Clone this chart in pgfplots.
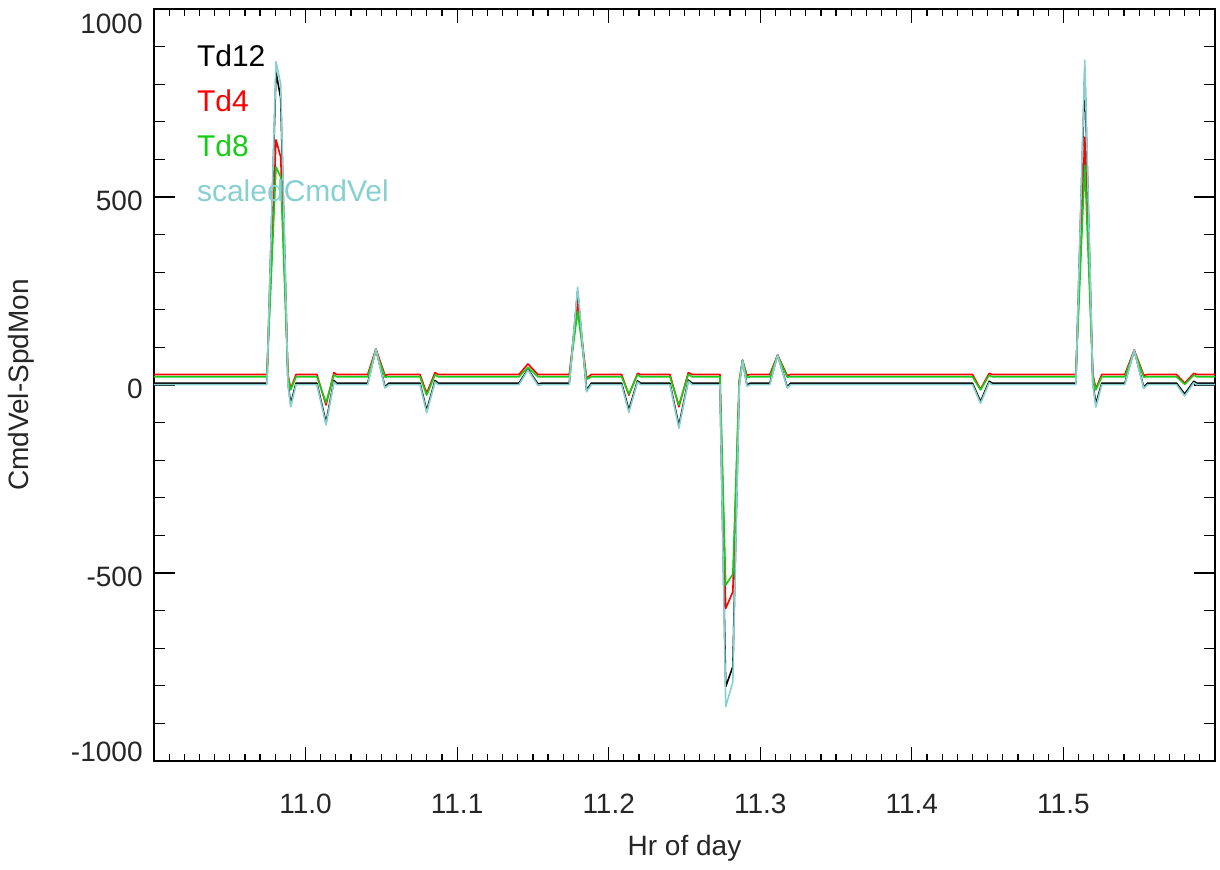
\documentclass[border=0pt]{standalone}
\usepackage{fontspec}
\setmainfont{Liberation Sans}
\usepackage{pgfplots}
\pgfplotsset{compat=1.18}
\usepackage{pgfplotstable}

\definecolor{tdgreen}{RGB}{20,205,20}
\definecolor{cmdcyan}{RGB}{135,208,208}

% hour of day, Td12, Td4, Td8, scaledCmdVel
\pgfplotstableread{
t       td12  td4  td8  cmd
10.9000    5   28   22    1
10.9745    5   28   22    1
10.9805  832  652  580  860
10.9836  763  606  553  800
10.9884    5   28   22    1
10.9902  -50  -10  -13  -58
10.9937    5   28   22    1
11.0075    5   28   22    1
11.0135 -100  -53  -47 -106
11.0187   12   33   27    8
11.0205    5   28   22    1
11.0410    5   28   22    1
11.0464   96   96   91   96
11.0524   -5   26   21   -8
11.0550    5   28   22    1
11.0755    5   28   22    1
11.0799  -68  -22  -27  -74
11.0854   12   33   27    8
11.0875    5   28   22    1
11.1408    5   28   22    1
11.1467   42   56   47   40
11.1533    3   28   22   -1
11.1560    5   28   22    1
11.1740    5   28   22    1
11.1795  250  219  195  260
11.1854  -14   18   15  -18
11.1885    5   28   22    1
11.2085    5   28   22    1
11.2133  -66  -27  -24  -73
11.2190   11   31   27    8
11.2210    5   28   22    1
11.2404    5   28   22    1
11.2463 -108  -58  -53 -115
11.2525   13   33   28   10
11.2550    5   28   22    1
11.2734    5   28   22    1
11.2772 -802 -594 -532 -855
11.2819 -749 -550 -503 -790
11.2861    0   10   10   -5
11.2883   66   66   66   66
11.2912    0   26   20   -3
11.2935    5   28   22    1
11.3063    5   28   22    1
11.3114   80   80   78   80
11.3178   -5   25   21   -8
11.3200    5   28   22    1
11.4400    5   28   22    1
11.4453  -44  -11  -13  -49
11.4510   10   31   26    6
11.4530    5   28   22    1
11.5082    5   28   22    1
11.5141  829  659  585  864
11.5194    5   28   22    1
11.5214  -50  -10  -13  -59
11.5253    5   28   22    1
11.5405    5   28   22    1
11.5467   93   93   90   93
11.5530   -6   26   21   -9
11.5555    5   28   22    1
11.5746    5   28   22    1
11.5800  -24    5    2  -29
11.5860   10   31   26    6
11.5880    5   28   22    1
11.6000    5   28   22    1
}\data

\begin{document}
\begin{tikzpicture}
\useasboundingbox (-77pt,-54pt) rectangle (533pt,380.5pt);
\begin{axis}[
  at={(0pt,0pt)}, anchor=south west,
  scale only axis, width=530.5pt, height=376pt,
  xmin=10.9, xmax=11.6, ymin=-1000, ymax=1000,
  xtick={10.9,11.0,11.1,11.2,11.3,11.4,11.5,11.6},
  xticklabels={,11.0,11.1,11.2,11.3,11.4,11.5,},
  minor x tick num=9,
  ytick={-1000,-500,0,500,1000},
  yticklabels={\raisebox{7pt}[10pt][0pt]{-1000},-500,0,500,\raisebox{-5pt}[10pt][0pt]{1000}},
  minor y tick num=4,
  tick align=inside,
  xtick style={/pgfplots/major tick length=7pt, /pgfplots/minor tick length=3.5pt, black, line width=0.6pt},
  ytick style={/pgfplots/major tick length=10.5pt, /pgfplots/minor tick length=5.5pt, black, line width=0.6pt},
  axis line style={line width=0.7pt},
  ticklabel style={font=\fontsize{14}{16}\selectfont, text=black!85},
  xticklabel style={anchor=base, inner sep=0pt, yshift=-26pt},
  yticklabel style={anchor=east, inner sep=0pt, xshift=-5.5pt, yshift=-2pt},
  xlabel={Hr of day}, ylabel={CmdVel-SpdMon},
  every axis x label/.style={at={(axis description cs:0.5,-0.1263)}, anchor=base, font=\fontsize{14}{16}\selectfont, text=black!85},
  every axis y label/.style={at={(axis description cs:-0.1254,0.5)}, rotate=90, anchor=center, font=\fontsize{14}{16}\selectfont, text=black!85},
  no markers,
  every axis plot/.append style={line width=0.8pt, line join=round},
]
\addplot[black] table[x=t, y=td12] {\data};
\addplot[red] table[x=t, y=td4] {\data};
\addplot[tdgreen] table[x=t, y=td8] {\data};
\addplot[cmdcyan] table[x=t, y=cmd] {\data};

\node[anchor=base west, inner sep=0pt, text=black, font=\fontsize{15}{18}\selectfont] at (rel axis cs:0.0402,0.9233) {Td12};
\node[anchor=base west, inner sep=0pt, text=red, font=\fontsize{15}{18}\selectfont] at (rel axis cs:0.0402,0.8634) {Td4};
\node[anchor=base west, inner sep=0pt, text=tdgreen, font=\fontsize{15}{18}\selectfont] at (rel axis cs:0.0402,0.8036) {Td8};
\node[anchor=base west, inner sep=0pt, text=cmdcyan, font=\fontsize{15}{18}\selectfont] at (rel axis cs:0.0402,0.7438) {scaledCmdVel};
\end{axis}
\end{tikzpicture}
\end{document}
